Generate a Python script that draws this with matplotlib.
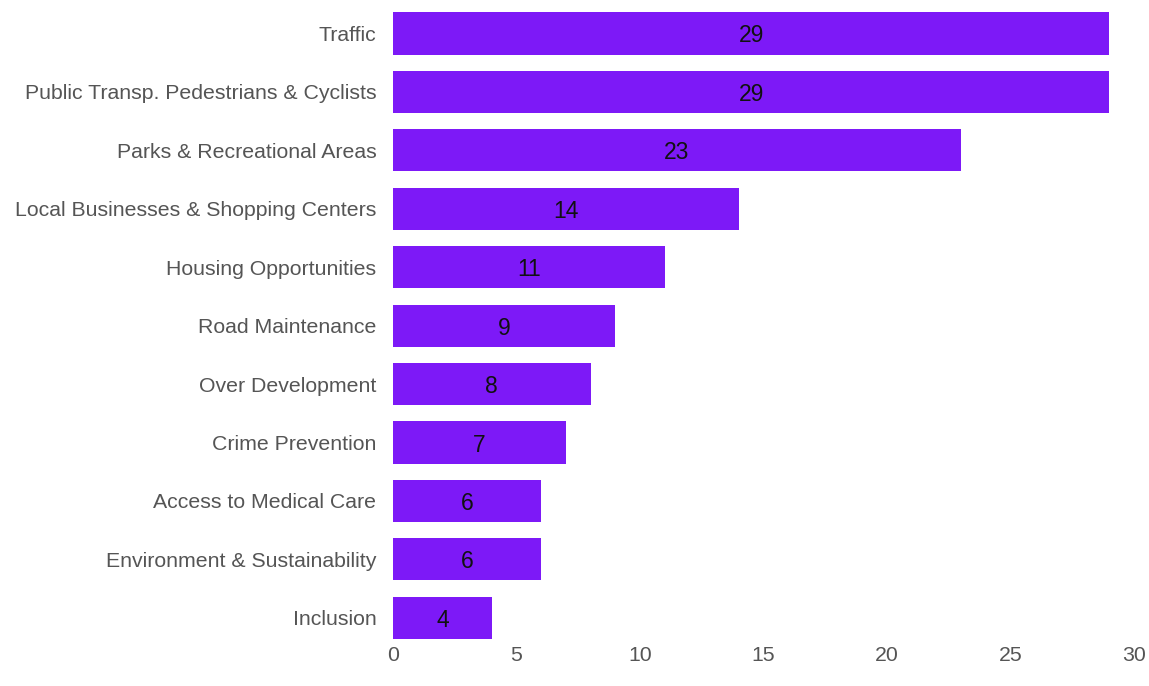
import numpy as np
from matplotlib import pyplot as plt

categorias = ['Traffic', 'Public Transp. Pedestrians & Cyclists', 'Parks & Recreational Areas',
              'Local Businesses & Shopping Centers', 'Housing Opportunities', 'Road Maintenance',
              'Over Development', 'Crime Prevention', 'Access to Medical Care',
              'Environment & Sustainability', 'Inclusion']
valores = [29, 29, 23, 14, 11, 9, 8, 7, 6, 6, 4]
ticks_x = [0, 5, 10, 15, 20, 25, 30]

plt.rcParams['font.family'] = ['Liberation Sans', 'DejaVu Sans']

fig = plt.figure(figsize=(11.49, 6.86), dpi=100)
ax = fig.add_axes([0.342, 0.0568, 0.645, 0.937])

y = np.arange(len(categorias))
ax.barh(y, valores, height=0.72, color='#7d19f7')
for i, v in enumerate(valores):
    ax.text(v / 2, i, str(v), ha='center', va='center_baseline', fontsize=16.5, color='#111111')

ax.set_ylim(len(categorias) - 0.5, -0.5)
ax.set_xlim(0, 30)
ax.set_yticks(y)
ax.set_yticklabels(categorias)
ax.set_xticks(ticks_x)
ax.tick_params(axis='y', length=0, pad=12, labelsize=15.3, labelcolor='#555555')
ax.tick_params(axis='x', length=0, pad=-1, labelsize=15.3, labelcolor='#555555')
for s in ax.spines.values():
    s.set_visible(False)

fig.savefig('out.png', dpi=100)
